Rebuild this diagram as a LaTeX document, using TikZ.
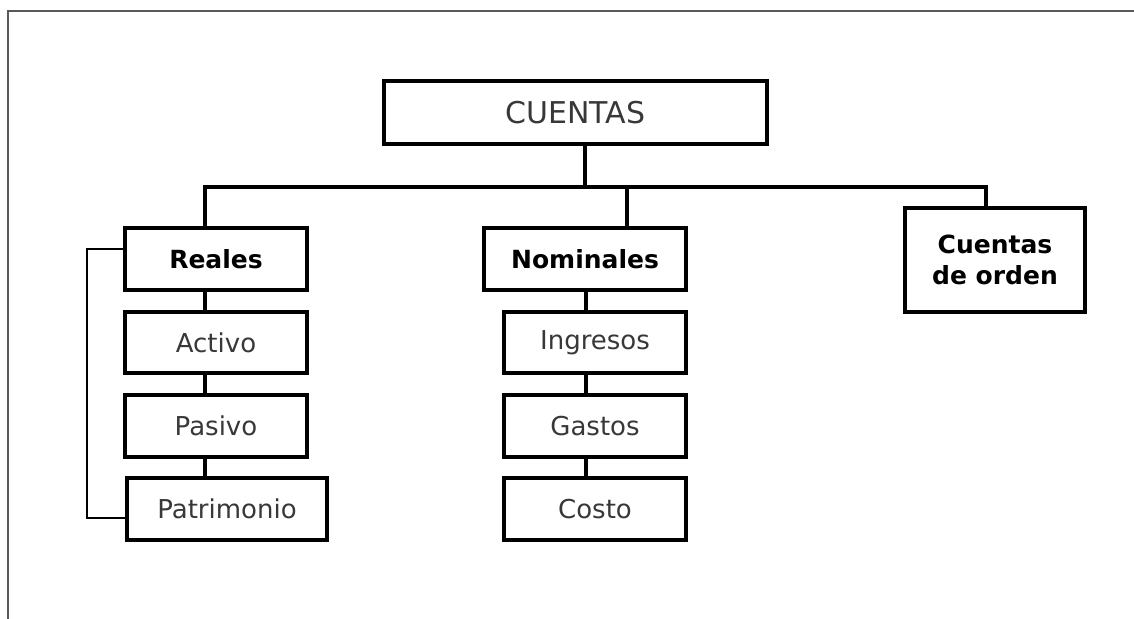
\documentclass[tikz,border=0pt]{standalone}
\usepackage{fontspec}
\setmainfont{DejaVu Sans}
\usetikzlibrary{calc}
\begin{document}
\begin{tikzpicture}[x=0.5pt,y=-0.5pt,
  box/.style={draw=black, line width=2pt, inner sep=0pt, align=center,
    font=\fontsize{13}{15.5}\selectfont, text=black!78},
  boldbox/.style={box, font=\fontsize{12.5}{15.5}\selectfont\bfseries, text=black},
  conn/.style={draw=black, line width=1.6pt},
  frame/.style={draw=black!65, line width=1.2pt}]
\useasboundingbox (0,0) rectangle (1134,619);
\draw[frame] (8,619) -- (8,11) -- (1134,11);

\node[box, minimum width=191.5pt, minimum height=31.5pt, font=\fontsize{15}{18}\selectfont] (cuentas) at (575.5,112.5) {CUENTAS};

\node[boldbox, minimum width=91pt, minimum height=31pt] (reales) at (216,259) {Reales};
\node[box, minimum width=91pt, minimum height=30.5pt] (activo) at (216,342.5) {Activo};
\node[box, minimum width=91pt, minimum height=31pt] (pasivo) at (216,426) {Pasivo};
\node[box, minimum width=100pt, minimum height=31pt] (patrimonio) at (227,509) {Patrimonio};

\node[boldbox, minimum width=101pt, minimum height=31pt] (nominales) at (585,259) {Nominales};
\node[box, minimum width=91pt, minimum height=30.5pt] (ingresos) at (595,342.5) {Ingresos};
\node[box, minimum width=91pt, minimum height=31pt] (gastos) at (595,426) {Gastos};
\node[box, minimum width=91pt, minimum height=31pt] (costo) at (595,509) {Costo};

\node[boldbox, minimum width=90pt, minimum height=52pt] (orden) at (995,260) {Cuentas\\de orden};

% bus coordinates
\coordinate (j0) at (585,187);
\coordinate (jr) at (205,187);
\coordinate (jn) at (627,187);
\coordinate (jo) at (986,187);
\coordinate (sl) at (205,0);
\coordinate (sn) at (586,0);
\coordinate (bl) at (87,0);
\coordinate (rt) at (0,249);
\coordinate (pt) at (0,518);

\draw[conn] (j0 |- cuentas.south) -- (j0);
\draw[conn] (jr |- reales.north) -- (jr) -- (jo) -- (jo |- orden.north);
\draw[conn] (jn) -- (jn |- nominales.north);

\draw[conn] (sl |- reales.south) -- (sl |- activo.north);
\draw[conn] (sl |- activo.south) -- (sl |- pasivo.north);
\draw[conn] (sl |- pasivo.south) -- (sl |- patrimonio.north);

\draw[conn] (sn |- nominales.south) -- (sn |- ingresos.north);
\draw[conn] (sn |- ingresos.south) -- (sn |- gastos.north);
\draw[conn] (sn |- gastos.south) -- (sn |- costo.north);

\draw[conn, line width=1.4pt] (reales.west |- rt) -- (bl |- rt) -- (bl |- pt) -- (patrimonio.west |- pt);
\end{tikzpicture}
\end{document}
